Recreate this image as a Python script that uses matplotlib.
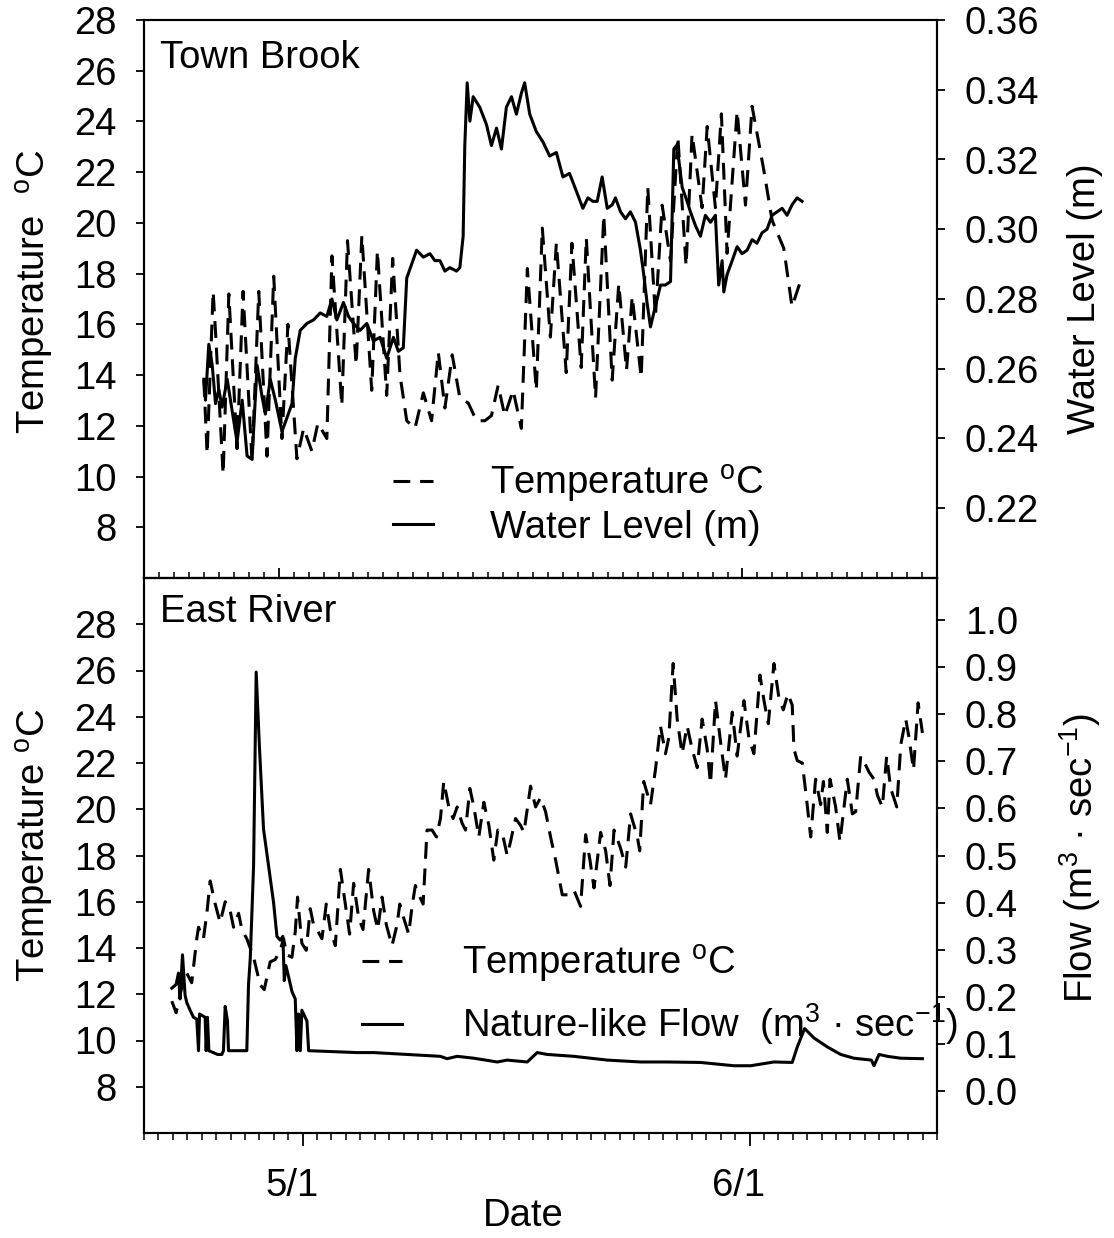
import numpy as np
import pandas as pd
import matplotlib
matplotlib.use("Agg")
import matplotlib.pyplot as plt
import matplotlib.dates as mdates
import matplotlib.transforms as mtransforms
from matplotlib.lines import Line2D
from matplotlib.ticker import FormatStrFormatter

plt.rcParams['font.family'] = ['Liberation Sans', 'DejaVu Sans']
plt.rcParams['mathtext.fontset'] = 'custom'
plt.rcParams['mathtext.rm'] = 'Liberation Sans'
plt.rcParams['mathtext.it'] = 'Liberation Sans:italic'
plt.rcParams['mathtext.bf'] = 'Liberation Sans:bold'

# days counted from May 1
tb_temp_day = [-5.0, -4.78, -4.38, -4.22, -3.71, -3.33, -2.78, -2.38, -1.78, -1.33,
               -0.78, -0.33, 0.22, 0.62, 1.22, 1.67, 2.22, 2.62, 3.22, 3.56,
               4.22, 4.6, 5.18, 5.56, 6.22, 6.6, 7.22, 7.62, 8.11, 8.56,
               9.11, 9.67, 10.22, 10.67, 11.11, 11.6, 12.11, 12.67, 13.22, 13.78,
               14.22, 14.67, 15.11, 15.67, 16.22, 16.62, 17.22, 17.62, 18.16, 18.56,
               19.22, 19.6, 20.22, 20.56, 21.18, 21.73, 22.29, 22.73, 23.25, 23.63,
               24.23, 24.67, 25.18, 25.63, 26.19, 26.68, 27.23, 27.63, 28.3, 28.64,
               29.19, 29.59, 29.97, 30.64, 31.2, 31.64, 32.42, 32.98, 33.76, 34.31,
               34.82]
tb_temp = [13.8, 10.9, 17.3, 15.7, 10.1, 17.2, 11.1, 17.3, 10.6, 17.3,
           10.8, 17.9, 11.5, 16.0, 10.7, 11.9, 11.0, 12.1, 11.5, 18.7,
           12.8, 19.3, 14.4, 19.5, 13.4, 18.9, 13.2, 18.6, 14.0, 12.2,
           11.9, 13.3, 12.2, 14.9, 12.7, 14.8, 13.1, 12.9, 12.2, 12.2,
           12.4, 13.6, 12.4, 13.4, 11.9, 18.2, 13.4, 19.8, 15.5, 19.2,
           14.1, 19.2, 14.3, 19.4, 13.1, 20.3, 13.8, 17.6, 14.2, 17.1,
           13.9, 21.4, 16.3, 20.7, 18.5, 23.4, 18.3, 23.5, 20.6, 23.8,
           20.6, 24.3, 18.8, 24.4, 20.7, 24.6, 22.1, 20.1, 19.0, 16.7,
           17.6]

tb_level_day = [-5.0, -4.89, -4.67, -4.44, -4.22, -4.0, -3.78, -3.44, -3.11, -2.78,
                -2.44, -2.11, -1.78, -1.44, -1.11, -0.89, -0.56, -0.22, 0.22, 0.56,
                0.89, 1.11, 1.44, 1.89, 2.33, 2.78, 3.22, 3.56, 3.89, 4.33,
                4.67, 5.0, 5.44, 5.89, 6.33, 6.78, 7.22, 7.67, 8.0, 8.33,
                8.56, 8.89, 9.22, 9.67, 10.11, 10.44, 10.78, 11.11, 11.44, 11.89,
                12.11, 12.33, 12.44, 12.6, 12.78, 13.0, 13.44, 13.89, 14.22, 14.56,
                14.89, 15.22, 15.56, 15.89, 16.22, 16.44, 16.78, 17.22, 17.67, 18.11,
                18.56, 19.0, 19.44, 19.89, 20.33, 20.67, 21.0, 21.29, 21.62, 21.96,
                22.29, 22.51, 22.85, 23.18, 23.51, 23.85, 24.18, 24.40, 24.62, 24.85,
                25.07, 25.3, 25.52, 25.85, 26.19, 26.41, 26.59, 26.74, 26.97, 27.3,
                27.52, 27.86, 28.19, 28.52, 28.86, 29.19, 29.41, 29.64, 29.75, 29.97,
                30.31, 30.64, 30.97, 31.31, 31.64, 31.97, 32.31, 32.64, 32.98, 33.31,
                33.65, 33.98, 34.31, 34.65, 34.98]
tb_level = [0.257, 0.251, 0.267, 0.261, 0.250, 0.254, 0.249, 0.257, 0.248, 0.239,
            0.251, 0.235, 0.234, 0.261, 0.252, 0.247, 0.257, 0.251, 0.242, 0.246,
            0.250, 0.263, 0.271, 0.273, 0.274, 0.276, 0.275, 0.280, 0.274, 0.279,
            0.275, 0.273, 0.271, 0.273, 0.268, 0.269, 0.263, 0.269, 0.265, 0.266,
            0.286, 0.290, 0.294, 0.292, 0.293, 0.291, 0.291, 0.288, 0.289, 0.288,
            0.289, 0.298, 0.324, 0.342, 0.331, 0.338, 0.335, 0.330, 0.324, 0.329,
            0.323, 0.335, 0.338, 0.333, 0.339, 0.342, 0.333, 0.328, 0.325, 0.321,
            0.322, 0.315, 0.316, 0.311, 0.306, 0.309, 0.308, 0.308, 0.315, 0.306,
            0.307, 0.309, 0.305, 0.303, 0.305, 0.302, 0.294, 0.287, 0.279, 0.272,
            0.276, 0.280, 0.284, 0.284, 0.285, 0.323, 0.324, 0.320, 0.312, 0.308,
            0.305, 0.301, 0.298, 0.304, 0.302, 0.304, 0.284, 0.291, 0.282, 0.287,
            0.291, 0.295, 0.293, 0.294, 0.297, 0.296, 0.299, 0.300, 0.304, 0.305,
            0.306, 0.304, 0.307, 0.309, 0.308]

er_temp_day = [-9.07, -8.77, -8.38, -8.03, -7.69, -7.34, -7.22, -6.88, -6.64, -6.41,
               -6.06, -5.72, -5.37, -5.02, -4.79, -4.44, -4.21, -3.87, -3.4, -2.94,
               -2.66, -2.25, -1.9, -1.55, -1.32, -1.09, -0.74, -0.51, -0.35, -0.05,
               0.25, 0.53, 0.76, 1.0, 1.34, 1.64, 1.92, 2.27, 2.62, 2.96,
               3.26, 3.54, 3.89, 4.19, 4.58, 4.93, 5.21, 5.51, 5.81, 6.2,
               6.55, 6.74, 7.01, 7.36, 7.59, 7.82, 8.06, 8.36, 8.63, 8.98,
               9.28, 9.56, 9.79, 10.14, 10.44, 10.72, 11.06, 11.3, 11.6, 11.88,
               12.22, 12.57, 12.92, 13.26, 13.54, 13.84, 14.19, 14.42, 14.77, 15.12,
               15.35, 15.81, 16.16, 16.5, 16.85, 17.2, 17.55, 18.01, 18.47, 18.82,
               19.28, 19.63, 19.93, 20.21, 20.67, 21.02, 21.32, 21.6, 22.06, 22.41,
               22.75, 23.22, 23.38, 23.66, 24.13, 24.47, 24.82, 25.17, 25.4, 25.7,
               25.98, 26.32, 26.67, 27.02, 27.37, 27.71, 28.06, 28.29, 28.64, 28.99,
               29.33, 29.8, 30.14, 30.61, 30.95, 31.3, 31.72, 32.0, 32.3, 32.69,
               33.04, 33.34, 33.66, 33.96, 34.08, 34.31, 34.66, 34.96, 35.24, 35.58,
               35.93, 36.12, 36.39, 36.58, 36.97, 37.27, 37.78, 38.13, 38.36, 38.71,
               39.06, 39.29, 39.63, 39.87, 40.21, 40.51, 40.79, 41.21, 41.49, 41.83,
               42.06, 42.37, 42.69, 42.99]
er_temp = [11.7, 11.2, 12.3, 12.9, 12.5, 14.4, 14.9, 14.4, 15.5, 16.9,
           15.9, 15.1, 16.0, 15.6, 14.9, 15.5, 14.8, 14.4, 13.6, 12.4,
           12.2, 13.4, 13.5, 13.9, 14.4, 13.7, 13.6, 14.7, 16.2, 14.2,
           13.9, 15.7, 15.0, 14.8, 14.4, 15.9, 14.8, 14.1, 17.4, 15.9,
           14.6, 16.8, 15.3, 14.8, 17.4, 15.6, 14.8, 16.2, 15.0, 14.1,
           15.0, 15.9, 15.3, 14.6, 15.8, 16.7, 16.3, 15.9, 19.1, 19.1,
           18.8, 19.6, 21.2, 20.1, 19.6, 20.1, 19.4, 19.1, 20.9, 20.1,
           18.8, 20.3, 19.3, 17.8, 19.1, 19.0, 18.0, 18.6, 19.6, 19.3,
           19.0, 21.0, 20.1, 20.5, 19.9, 18.8, 17.8, 16.3, 16.3, 16.5,
           15.8, 18.9, 17.8, 16.6, 19.0, 18.2, 16.7, 19.1, 18.3, 17.5,
           19.8, 18.8, 18.2, 21.2, 20.2, 21.7, 23.6, 22.4, 23.1, 26.3,
           23.9, 22.4, 23.6, 22.6, 21.8, 23.9, 22.6, 21.1, 24.7, 22.9,
           21.3, 24.2, 22.3, 24.7, 23.1, 22.4, 25.8, 24.7, 23.7, 26.3,
           24.8, 24.3, 25.0, 24.5, 22.6, 22.1, 22.0, 20.4, 18.8, 21.3,
           20.2, 21.2, 19.0, 21.3, 20.1, 18.6, 21.3, 19.8, 19.9, 22.3,
           21.9, 21.6, 21.3, 20.6, 20.1, 22.3, 20.9, 20.1, 22.8, 23.9,
           23.1, 21.7, 24.6, 23.3]

er_flow_day = [-9.07, -8.77, -8.61, -8.5, -8.33, -8.15, -8.03, -7.8, -7.57, -7.34,
               -7.22, -7.15, -6.76, -6.69, -6.6, -6.5, -5.9, -5.6, -5.49, -5.37,
               -5.21, -5.14, -3.87, -3.75, -3.63, -3.4, -3.22, -2.99, -2.71, -2.36,
               -2.01, -1.78, -1.55, -1.37, -1.27, -1.16, -0.97, -0.74, -0.51, -0.39,
               -0.28, -0.16, -0.05, 0.3, 0.42, 3.77, 4.93, 7.25, 9.56, 10.02,
               10.72, 11.88, 13.5, 14.19, 15.58, 16.27, 16.97, 18.82, 21.13, 23.45,
               25.28, 27.6, 29.91, 31.07, 32.69, 33.96, 34.31, 34.82, 35.47, 36.39,
               37.32, 38.24, 39.45, 39.63, 39.98, 40.56, 41.49, 42.99]
er_flow = [0.218, 0.226, 0.250, 0.195, 0.289, 0.203, 0.187, 0.171, 0.156, 0.152,
           0.085, 0.163, 0.156, 0.085, 0.156, 0.085, 0.077, 0.077, 0.085, 0.179,
           0.148, 0.085, 0.085, 0.226, 0.281, 0.478, 0.890, 0.729, 0.556, 0.478,
           0.399, 0.328, 0.320, 0.328, 0.234, 0.266, 0.242, 0.211, 0.195, 0.085,
           0.163, 0.085, 0.171, 0.148, 0.085, 0.081, 0.081, 0.077, 0.073, 0.068,
           0.073, 0.069, 0.061, 0.065, 0.061, 0.081, 0.077, 0.073, 0.065, 0.061,
           0.061, 0.060, 0.053, 0.053, 0.061, 0.060, 0.093, 0.132, 0.112, 0.093,
           0.077, 0.069, 0.065, 0.053, 0.077, 0.073, 0.069, 0.068]

base = pd.Timestamp("2011-05-01")


def to_dates(days):
    return (base + pd.to_timedelta(np.asarray(days), unit="D")).to_numpy()


FS = 27.5
LW = 2.2
DASH = (5.5, 3.2)
NARROW = ['Liberation Sans Narrow', 'Liberation Sans']

fig = plt.figure(figsize=(11.14, 12.38), dpi=100)
W, H = 1114, 1238
ax1 = fig.add_axes([144 / W, 1 - 578 / H, 793 / W, 558 / H])
ax2 = fig.add_axes([144 / W, 1 - 1133 / H, 793 / W, 555 / H])
ax1r = ax1.twinx()
ax2r = ax2.twinx()

# top panel: Town Brook
ax1.plot(to_dates(tb_temp_day), tb_temp, color='black', lw=LW, dashes=DASH)
ax1r.plot(to_dates(tb_level_day), tb_level, color='black', lw=LW)
ax1.set_xlim(base - pd.Timedelta(days=9), base + pd.Timedelta(days=44))
ax1.set_ylim(6, 28)
ax1r.set_ylim(0.20, 0.36)
ax1.set_yticks(range(8, 29, 2))
ax1r.set_yticks(np.arange(0.22, 0.3601, 0.02))
ax1r.yaxis.set_major_formatter(FormatStrFormatter('%.2f'))

# bottom panel: East River
ax2.plot(to_dates(er_temp_day), er_temp, color='black', lw=LW, dashes=DASH)
ax2r.plot(to_dates(er_flow_day), er_flow, color='black', lw=LW)
ax2.set_xlim(base - pd.Timedelta(days=11), base + pd.Timedelta(days=44))
ax2.set_ylim(6, 30)
ax2r.set_ylim(-0.09, 1.09)
ax2.set_yticks(range(8, 29, 2))
ax2r.set_yticks(np.arange(0, 1.001, 0.1))
ax2r.yaxis.set_major_formatter(FormatStrFormatter('%.1f'))

for ax in (ax1, ax2, ax1r, ax2r):
    for sp in ax.spines.values():
        sp.set_linewidth(1.5)
    ax.tick_params(axis='y', which='major', direction='out', length=6, width=1.3,
                   labelsize=FS, pad=14)

for ax in (ax1, ax2):
    ax.xaxis.set_major_locator(mdates.MonthLocator())
    ax.xaxis.set_minor_locator(mdates.DayLocator())
    ax.xaxis.set_major_formatter(
        plt.FuncFormatter(lambda v, p: "%d/%d" % (mdates.num2date(v).month, mdates.num2date(v).day)))

ax1.tick_params(axis='x', which='major', direction='in', length=7, width=1.3,
                top=False, labelbottom=False)
ax1.tick_params(axis='x', which='minor', direction='in', length=4, width=1.1, top=False)
ax2.tick_params(axis='x', which='major', direction='out', length=9, width=1.3,
                top=False, pad=16)
ax2.tick_params(axis='x', which='minor', direction='out', length=5, width=1.1, top=False)
for lab in ax2.get_xticklabels():
    lab.set_fontfamily(NARROW)
    lab.set_fontsize(FS)
    lab.set_transform(lab.get_transform() +
                      mtransforms.ScaledTranslation(-0.11, 0, fig.dpi_scale_trans))

# titles
ax1.text(0.02, 0.964, "Town Brook", transform=ax1.transAxes, fontsize=FS,
         ha='left', va='top')
ax2.text(0.02, 0.971, "East River", transform=ax2.transAxes, fontsize=FS,
         ha='left', va='top')

# axis labels
ax1.set_ylabel("Temperature  $^{\\mathrm{o}}$C", fontsize=FS, va='center')
ax1.yaxis.set_label_coords(-0.137, 0.513)
ax2.set_ylabel("Temperature $^{\\mathrm{o}}$C", fontsize=FS, va='center')
ax2.yaxis.set_label_coords(-0.137, 0.519)
ax1r.set_ylabel("Water Level (m)", fontsize=FS, va='center', rotation=90)
ax1r.yaxis.set_label_coords(1.187, 0.5)
ax2r.set_ylabel("Flow (m$^3$ \u00b7 sec$^{-1}$)", fontsize=FS, va='center', rotation=90)
ax2r.yaxis.set_label_coords(1.18, 0.495)
ax2.set_xlabel("Date", fontsize=FS, family=NARROW)
ax2.xaxis.set_label_coords(0.478, -0.118)

# legends
h_dash = Line2D([], [], color='black', lw=LW, dashes=DASH)
h_solid = Line2D([], [], color='black', lw=LW)
ax1r.legend([h_dash, h_solid], ["Temperature $^{\\mathrm{o}}$C", "Water Level (m)"],
            loc='upper left', bbox_to_anchor=(0.314, 0.206), frameon=False,
            fontsize=FS, handlelength=1.05, handletextpad=1.5, labelspacing=0.12,
            borderpad=0, borderaxespad=0)
ax2r.legend([h_dash, h_solid],
            ["Temperature $^{\\mathrm{o}}$C", "Nature-like Flow  (m$^3$ \u00b7 sec$^{-1}$)"],
            loc='upper left', bbox_to_anchor=(0.275, 0.343), frameon=False,
            fontsize=FS, handlelength=1.05, handletextpad=1.56, labelspacing=0.44,
            borderpad=0, borderaxespad=0)

fig.savefig("out.png", dpi=100)
